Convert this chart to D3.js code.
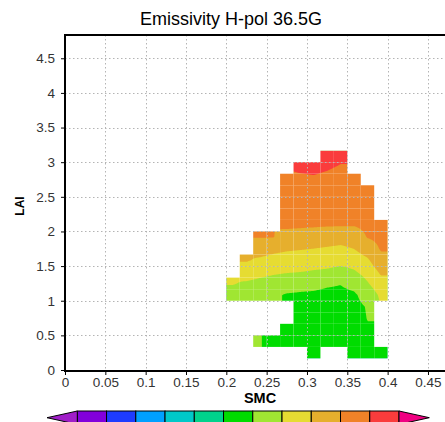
<!DOCTYPE html>
<html>
<head>
<meta charset="utf-8">
<script src="https://cdn.jsdelivr.net/npm/d3@7"></script>
<style>
  html, body { margin: 0; padding: 0; background: #fff; }
  svg { display: block; }
  text { font-family: "Liberation Sans", Arial, Helvetica, sans-serif; }
</style>
</head>
<body>
<svg id="chart" width="445" height="422"></svg>
<script>
// ---- data ----
const titleText = "Emissivity H-pol 36.5G";
const xLabel = "SMC";
const yLabel = "LAI";
const xTicks = [0, 0.05, 0.1, 0.15, 0.2, 0.25, 0.3, 0.35, 0.4, 0.45];
const yTicks = [0, 0.5, 1, 1.5, 2, 2.5, 3, 3.5, 4, 4.5];

// grid cell centres
const smcCenters = [0.20833, 0.225, 0.24167, 0.25833, 0.275, 0.29167,
                    0.30833, 0.325, 0.34167, 0.35833, 0.375, 0.39167];
const laiCenters = [0.25, 0.41667, 0.58333, 0.75, 0.91667, 1.08333, 1.25,
                    1.41667, 1.58333, 1.75, 1.91667, 2.08333, 2.25, 2.41667,
                    2.58333, 2.75, 2.91667, 3.08333];

// emissivity per cell, rows = LAI (low to high), columns = SMC; null = no data
const emissivity = [
  [null,null,null,null,null,null,0.9150,null,null,0.9160,0.9165,0.9170],
  [null,null,0.9205,0.9170,0.9160,0.9155,0.9155,0.9160,0.9165,0.9165,0.9170,null],
  [null,null,null,null,0.9160,0.9160,0.9160,0.9165,0.9170,0.9170,0.9195,null],
  [null,null,null,null,null,0.9165,0.9166,0.9170,0.9175,0.9175,0.9202,null],
  [null,null,null,null,null,0.9170,0.9172,0.9175,0.9180,0.9180,0.9205,null],
  [0.9266,0.9253,0.9236,0.9213,0.9193,0.9189,0.9188,0.9183,0.9182,0.9188,0.9235,0.9320],
  [0.9305,0.9289,0.9277,0.9263,0.9243,0.9231,0.9222,0.9210,0.9203,0.9226,0.9292,0.9366],
  [null,0.9344,0.9326,0.9314,0.9307,0.9301,0.9292,0.9285,0.9269,0.9289,0.9338,0.9416],
  [null,0.9408,0.9385,0.9368,0.9358,0.9353,0.9346,0.9340,0.9328,0.9346,0.9386,0.9473],
  [null,null,0.9443,0.9425,0.9412,0.9406,0.9399,0.9390,0.9380,0.9401,0.9448,0.9508],
  [null,null,0.9503,0.9502,0.9473,0.9467,0.9459,0.9450,0.9442,0.9453,0.9504,0.9522],
  [null,null,null,null,0.9511,0.9509,0.9507,0.9504,0.9503,0.9502,0.9518,0.9537],
  [null,null,null,null,0.9530,0.9529,0.9528,0.9524,0.9521,0.9517,0.9533,null],
  [null,null,null,null,0.9549,0.9549,0.9549,0.9545,0.9539,0.9534,0.9547,null],
  [null,null,null,null,0.9568,0.9569,0.9570,0.9565,0.9557,0.9550,0.9562,null],
  [null,null,null,null,0.9590,0.9589,0.9592,0.9585,0.9575,0.9566,null,null],
  [null,null,null,null,null,0.9609,0.9613,0.9605,0.9594,null,null,null],
  [null,null,null,null,null,null,null,0.9625,0.9612,null,null,null]
];

// contour levels and fill colours (one more colour than levels)
const levels = [0.86, 0.87, 0.88, 0.89, 0.90, 0.91, 0.92, 0.93, 0.94, 0.95, 0.96, 0.97];
const levelColors = ["#A01EC8", "#8200DC", "#1E3CFF", "#00A0FF", "#00C8C8", "#00D28C",
                     "#00DC00", "#A0E632", "#E6DC32", "#E6AF2D", "#F08228", "#FA3C3C", "#F00082"];

// ---- layout ----
const svg = d3.select("#chart");
const x = d3.scaleLinear().domain([0, 0.5]).range([65, 468.3]);
const y = d3.scaleLinear().domain([0, 4.836]).range([370, 35]);
const plotTop = y.range()[1], plotBottom = y.range()[0];
const plotLeft = x.range()[0], plotRight = 445;

// ---- filled contours ----
const nx = smcCenters.length, ny = laiCenters.length;
const dS = smcCenters[1] - smcCenters[0];
const dL = laiCenters[1] - laiCenters[0];
const s0 = smcCenters[0] - dS / 2, l0 = laiCenters[0] - dL / 2;
const sub = 16;
const W = nx * sub, H = ny * sub;

const validCells = [];
emissivity.forEach((row, j) => row.forEach((v, i) => { if (v != null) validCells.push({ i, j, v }); }));

// bilinear value from the neighbouring cells that hold data
function sampleField(fx, fy) {
  const cx = Math.max(0, Math.min(nx - 1, fx));
  const cy = Math.max(0, Math.min(ny - 1, fy));
  const i0 = Math.min(nx - 2, Math.floor(cx));
  const j0 = Math.min(ny - 2, Math.floor(cy));
  const tx = cx - i0, ty = cy - j0;
  const corners = [
    [i0, j0, (1 - tx) * (1 - ty)], [i0 + 1, j0, tx * (1 - ty)],
    [i0, j0 + 1, (1 - tx) * ty], [i0 + 1, j0 + 1, tx * ty]
  ];
  let sw = 0, sv = 0;
  for (const [i, j, w] of corners) {
    const v = emissivity[j][i];
    if (v != null && w > 0) { sw += w; sv += w * v; }
  }
  if (sw > 0) return sv / sw;
  let best = validCells[0].v, bd = Infinity;
  for (const c of validCells) {
    const d = (c.i - fx) ** 2 + (c.j - fy) ** 2;
    if (d < bd) { bd = d; best = c.v; }
  }
  return best;
}

const values = new Float64Array(W * H);
for (let m = 0; m < H; m++) {
  const fy = (m + 0.5) / sub - 0.5;
  for (let k = 0; k < W; k++) {
    const fx = (k + 0.5) / sub - 0.5;
    values[m * W + k] = sampleField(fx, fy);
  }
}

const contours = d3.contours().size([W, H]).thresholds(levels)(values);
const gridToScreen = d3.geoTransform({
  point(u, v) {
    this.stream.point(x(s0 + (u / sub) * dS), y(l0 + (v / sub) * dL));
  }
});
const contourPath = d3.geoPath(gridToScreen);

const defs = svg.append("defs");
const clip = defs.append("clipPath").attr("id", "dataMask");
clip.selectAll("rect").data(validCells).join("rect")
  .attr("x", d => x(smcCenters[d.i] - dS / 2))
  .attr("width", d => x(smcCenters[d.i] + dS / 2) - x(smcCenters[d.i] - dS / 2))
  .attr("y", d => y(laiCenters[d.j] + dL / 2))
  .attr("height", d => y(laiCenters[d.j] - dL / 2) - y(laiCenters[d.j] + dL / 2));

const fillG = svg.append("g").attr("clip-path", "url(#dataMask)");
fillG.selectAll("rect.base").data(validCells).join("rect")
  .attr("class", "base")
  .attr("x", d => x(smcCenters[d.i] - dS / 2))
  .attr("width", d => x(smcCenters[d.i] + dS / 2) - x(smcCenters[d.i] - dS / 2))
  .attr("y", d => y(laiCenters[d.j] + dL / 2))
  .attr("height", d => y(laiCenters[d.j] - dL / 2) - y(laiCenters[d.j] + dL / 2))
  .attr("fill", levelColors[0]);
fillG.selectAll("path").data(contours).join("path")
  .attr("d", contourPath)
  .attr("fill", (d, i) => levelColors[i + 1]);

// ---- grid lines ----
const gridG = svg.append("g")
  .attr("stroke", "#b4b4b4").attr("stroke-width", 1)
  .attr("stroke-dasharray", "1.5,2.5");
gridG.selectAll("line.v").data(xTicks.filter(d => d > 0)).join("line")
  .attr("class", "v")
  .attr("x1", d => Math.round(x(d)) + 0.5).attr("x2", d => Math.round(x(d)) + 0.5)
  .attr("y1", plotTop).attr("y2", plotBottom);
gridG.selectAll("line.h").data(yTicks.filter(d => d > 0)).join("line")
  .attr("class", "h")
  .attr("y1", d => Math.round(y(d)) + 0.5).attr("y2", d => Math.round(y(d)) + 0.5)
  .attr("x1", plotLeft).attr("x2", plotRight);

// ---- axes ----
const fmt = d3.format("~g");
const xAxis = svg.append("g").attr("transform", `translate(0,${plotBottom + 1})`)
  .call(d3.axisBottom(x).tickValues(xTicks).tickSize(4).tickPadding(2).tickFormat(fmt));
const yAxis = svg.append("g").attr("transform", `translate(${plotLeft},0)`)
  .call(d3.axisLeft(y).tickValues(yTicks).tickSize(4).tickPadding(6).tickFormat(fmt));
[xAxis, yAxis].forEach(a => {
  a.select(".domain").remove();
  a.selectAll("line").attr("stroke", "#000").attr("stroke-width", 1);
  a.selectAll("text").attr("font-size", 13.5).attr("fill", "#333")
    .attr("font-family", "'Liberation Sans', Arial, sans-serif");
});

// frame
const frame = svg.append("g").attr("stroke", "#000").attr("fill", "none");
frame.append("line").attr("x1", plotLeft).attr("x2", plotLeft)
  .attr("y1", plotTop - 1).attr("y2", plotBottom + 2).attr("stroke-width", 2);
frame.append("line").attr("x1", plotLeft - 1).attr("x2", plotRight)
  .attr("y1", plotTop).attr("y2", plotTop).attr("stroke-width", 2);
frame.append("line").attr("x1", plotLeft - 1).attr("x2", plotRight)
  .attr("y1", plotBottom + 1).attr("y2", plotBottom + 1).attr("stroke-width", 2);

// ---- titles ----
svg.append("text").attr("x", 231).attr("y", 25).attr("text-anchor", "middle")
  .attr("font-size", 18).attr("fill", "#000").text(titleText);
svg.append("text").attr("transform", "translate(23.5,206) rotate(-90)")
  .attr("text-anchor", "middle").attr("font-size", 12).attr("font-weight", "bold")
  .attr("fill", "#000").text(yLabel);
svg.append("text").attr("x", 260).attr("y", 403).attr("text-anchor", "middle")
  .attr("font-size", 14.5).attr("font-weight", "bold").attr("fill", "#000").text(xLabel);

// ---- colour bar ----
const cb = d3.scaleLinear().domain([levels[0], levels[levels.length - 1]]).range([77.3, 399]);
const cbTop = 411, cbH = 13.4;
const boxes = d3.pairs(levels).map(([a, b], i) => ({ a, b, color: levelColors[i + 1] }));
const cbG = svg.append("g").attr("stroke", "#000").attr("stroke-width", 1);
cbG.selectAll("rect").data(boxes).join("rect")
  .attr("x", d => cb(d.a)).attr("width", d => cb(d.b) - cb(d.a))
  .attr("y", cbTop).attr("height", cbH)
  .attr("fill", d => d.color);
const triW = 30.3;
const x0 = cb(levels[0]), x1 = cb(levels[levels.length - 1]);
cbG.append("path")
  .attr("d", `M${x0},${cbTop}L${x0 - triW},${cbTop + cbH / 2}L${x0},${cbTop + cbH}Z`)
  .attr("fill", levelColors[0]);
cbG.append("path")
  .attr("d", `M${x1},${cbTop}L${x1 + triW},${cbTop + cbH / 2}L${x1},${cbTop + cbH}Z`)
  .attr("fill", levelColors[levelColors.length - 1]);
</script>
</body>
</html>
